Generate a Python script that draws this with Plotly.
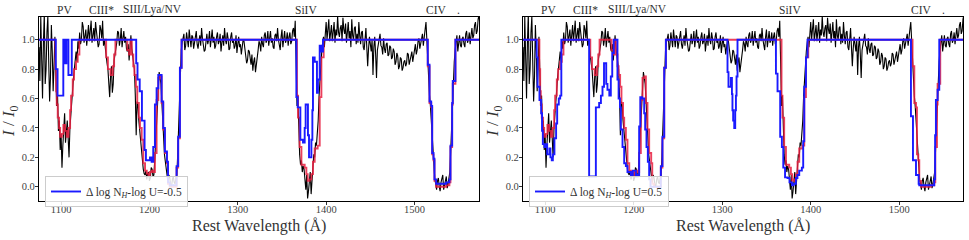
import numpy as np
import plotly.graph_objects as go

# ---------------- data ----------------
wl_start = 1075.0
wl_step = 1.0
flux = [
    0.95, 0.72, 1.16, 0.88, 0.60, 0.98, 1.18, 0.70, 0.80, 1.05, 1.16, 0.85, 0.58, 0.75, 1.10, 0.92, 0.65, 0.82, 1.02, 0.78,
    0.55, 0.62, 0.38, 0.45, 0.25, 0.36, 0.13, 0.28, 0.42, 0.50, 0.30, 0.38, 0.45, 0.33, 0.20, 0.40, 0.50, 0.58, 0.68, 0.74,
    0.80, 0.86, 0.92, 0.85, 0.99, 0.94, 1.05, 0.97, 1.00, 1.12, 1.09, 0.98, 1.03, 1.07, 0.96, 1.02, 1.10, 0.99, 1.05, 1.13,
    0.98, 1.04, 1.08, 0.99, 1.12, 1.06, 1.02, 0.95, 0.97, 1.10, 1.07, 1.01, 1.13, 0.96, 1.00, 0.93, 0.90, 0.84, 0.80, 0.70,
    0.61, 0.75, 0.82, 0.64, 0.70, 0.86, 0.90, 0.97, 0.98, 1.06, 1.05, 0.96, 1.00, 1.08, 0.95, 1.01, 1.06, 0.98, 1.02, 0.94,
    0.92, 0.97, 0.86, 0.95, 1.03, 0.94, 0.90, 0.84, 0.80, 0.62, 0.35, 0.58, 0.55, 0.45, 0.38, 0.30, 0.22, 0.16, 0.12, 0.09,
    0.08, 0.11, 0.05, 0.09, 0.10, 0.04, 0.06, 0.13, 0.12, 0.07, 0.08, 0.18, 0.30, 0.48, 0.62, 0.72, 0.78, 0.74, 0.70, 0.58,
    0.45, 0.33, 0.22, 0.17, 0.12, 0.06, 0.03, 0.08, 0.06, 0.01, 0.00, 0.05, 0.07, 0.03, 0.02, 0.06, 0.08, 0.22, 0.40, 0.65,
    0.82, 0.93, 0.98, 1.02, 1.04, 0.93, 0.96, 1.05, 1.00, 0.95, 1.07, 0.98, 0.95, 1.03, 1.02, 0.94, 0.98, 1.04, 1.06, 0.97,
    0.94, 0.99, 1.03, 0.96, 1.08, 1.01, 0.97, 0.92, 0.93, 1.00, 1.04, 0.97, 1.00, 1.06, 0.95, 1.01, 1.07, 0.98, 1.02, 0.94,
    0.96, 1.02, 1.05, 0.97, 0.99, 1.04, 0.92, 0.98, 1.03, 0.96, 1.08, 1.00, 0.97, 1.05, 1.01, 0.93, 0.94, 1.02, 1.05, 0.98,
    1.00, 0.94, 0.96, 1.03, 0.91, 0.97, 1.02, 0.95, 0.97, 0.90, 0.94, 1.00, 0.99, 0.93, 0.90, 0.84, 0.86, 0.93, 0.92, 0.85,
    0.83, 0.90, 0.79, 0.85, 0.88, 0.78, 0.82, 0.89, 0.93, 0.99, 0.97, 0.92, 1.02, 0.97, 0.95, 1.03, 1.05, 0.98, 1.00, 1.06,
    0.96, 1.01, 1.06, 0.98, 1.01, 0.95, 0.94, 1.03, 1.04, 0.99, 1.08, 1.00, 0.97, 0.93, 1.02, 1.07, 0.95, 1.00, 1.06, 0.98,
    1.00, 1.05, 0.96, 1.02, 1.05, 0.97, 0.99, 1.06, 1.08, 1.02, 1.13, 0.85, 0.55, 0.62, 0.30, 0.22, 0.15, 0.18, 0.10, 0.14,
    0.12, 0.05, -0.02, 0.08, -0.08, -0.03, 0.05, 0.10, -0.05, 0.06, 0.12, 0.22, 0.20, 0.30, 0.28, 0.35, 0.45, 0.62, 0.75, 0.88,
    0.92, 0.98, 1.02, 0.95, 1.08, 1.12, 1.00, 1.06, 1.14, 0.99, 1.05, 1.10, 0.99, 1.04, 1.12, 0.98, 1.07, 1.03, 1.16, 1.05,
    1.02, 1.08, 1.10, 0.99, 1.15, 1.07, 1.04, 1.11, 0.98, 1.05, 1.12, 1.01, 1.06, 0.95, 1.14, 1.03, 1.00, 1.08, 1.09, 0.97,
    1.04, 0.98, 1.12, 1.03, 0.97, 1.05, 1.06, 0.95, 0.93, 1.00, 1.08, 0.95, 0.82, 0.94, 1.02, 0.97, 0.92, 1.00, 0.76, 0.95,
    1.02, 0.90, 0.74, 0.93, 0.97, 1.03, 1.04, 0.96, 0.95, 0.90, 1.01, 0.94, 0.91, 0.97, 0.98, 0.89, 0.90, 0.96, 0.95, 0.87,
    0.88, 0.94, 0.92, 0.83, 0.85, 0.91, 0.89, 0.80, 0.82, 0.88, 0.87, 0.79, 0.81, 0.85, 0.86, 0.82, 0.84, 0.91, 0.90, 0.83,
    0.86, 0.91, 0.92, 0.85, 0.89, 0.95, 0.97, 0.90, 0.93, 0.99, 1.01, 0.94, 0.97, 1.02, 1.04, 0.96, 1.00, 1.07, 1.12, 0.97,
    0.85, 0.78, 0.62, 0.55, 0.45, 0.30, 0.20, 0.12, 0.05, 0.02, -0.02, 0.04, 0.06, 0.00, -0.03, 0.03, 0.05, 0.08, -0.02, 0.03,
    0.04, 0.07, -0.01, 0.02, 0.06, 0.10, 0.25, 0.42, 0.60, 0.72, 0.85, 0.93, 0.97, 1.03, 0.92, 0.98, 1.03, 0.96, 0.95, 1.01,
    1.02, 0.97, 0.95, 1.04, 1.06, 0.98, 1.00, 1.05, 0.97, 1.03, 1.08, 1.01, 1.03, 1.10, 1.12, 1.04, 1.06, 1.14, 1.17, 1.10,
    1.08,
]
wl = wl_start + wl_step * np.arange(len(flux))

# best-fit model (red), step function knots
red_wl = [1075, 1093.5, 1094.4, 1095.1, 1096.2, 1097.7, 1098.9, 1100.8, 1102.6, 1104.5,
          1106.4, 1108.3, 1110.2, 1111.3, 1113.2, 1114.7, 1116.9, 1118.8, 1120.7,
          1151, 1153, 1156, 1158.5, 1160, 1161.5,
          1175, 1177, 1178.5,
          1180, 1181.7, 1183, 1184.7, 1186.2, 1188, 1189.3, 1191.2, 1193, 1195, 1197, 1199,
          1200.6, 1202.5, 1204.5, 1206.2, 1208.1, 1210, 1211.9, 1213.8, 1215.6, 1217.5,
          1219.8, 1221, 1223, 1230.7, 1232.5, 1234.5, 1236.4,
          1367, 1368.1, 1370, 1372, 1375.7, 1377.6, 1379.1, 1381.4, 1383.3, 1385.1, 1387,
          1390.4, 1392.7, 1394.6, 1397.2,
          1515, 1517, 1518.9, 1520, 1521.5, 1522.6, 1524.5, 1535.8, 1539.5, 1540.7, 1542.6,
          1543.3, 1546.3, 1575]
red_I = [1.0, 0.80, 0.65, 0.56, 0.47, 0.40, 0.34, 0.36, 0.42, 0.38,
         0.34, 0.40, 0.52, 0.62, 0.73, 0.80, 0.85, 0.90, 1.0,
         0.88, 0.80, 0.76, 0.82, 0.90, 1.0,
         0.93, 0.90, 1.0,
         0.90, 0.82, 0.76, 0.68, 0.57, 0.47, 0.40, 0.32, 0.16, 0.11, 0.09, 0.08,
         0.10, 0.11, 0.10, 0.23, 0.59, 0.74, 0.75, 0.57, 0.39, 0.23,
         0.16, 0.02, 0.0, 0.13, 0.33, 0.81, 1.0,
         0.62, 0.47, 0.27, 0.15, 0.13, 0.086, 0.04, 0.05, 0.086, 0.17, 0.26,
         0.28, 0.61, 0.88, 1.0,
         0.82, 0.57, 0.54, 0.22, 0.18, 0.04, 0.0, 0.01, 0.03, 0.27, 0.56,
         0.70, 1.0, 1.0]

# model with delta log NH - log U = -0.5 (left, blue)
blueL_wl = [1075, 1094.0, 1096.0, 1102.5, 1104.5, 1106.0, 1108.3, 1112.1,
            1185.0, 1186.5, 1189.0, 1191.5, 1194.5, 1196.0, 1200.6, 1202.5, 1204.3, 1206.2,
            1208.1, 1210, 1211.9, 1213.8, 1215.6, 1217.5, 1219.8, 1221, 1223, 1230.7,
            1232.5, 1234.5, 1236.4,
            1366.3, 1367.8, 1370.8, 1373.8, 1375.7, 1376.8, 1379.4, 1380.6, 1383.3, 1384.4,
            1385.1, 1387.0, 1389.6, 1390.7, 1392.7, 1394.6, 1396.4,
            1515, 1517, 1518.9, 1520, 1521.5, 1522.6, 1524.5, 1535.8, 1539.5, 1540.7,
            1542.6, 1543.3, 1546.3, 1575]
blueL_I = [1.0, 0.80, 0.62, 1.0, 0.84, 1.0, 0.76, 1.0,
           0.84, 0.73, 0.65, 0.45, 0.25, 0.18, 0.20, 0.17, 0.27, 0.56,
           0.67, 0.76, 0.76, 0.58, 0.40, 0.24, 0.17, 0.03, 0.01, 0.14,
           0.34, 0.81, 1.0,
           0.61, 0.54, 0.32, 0.30, 0.40, 0.56, 0.35, 0.20, 0.32, 0.52,
           0.88, 0.85, 0.64, 0.73, 0.96, 0.92, 1.0,
           0.83, 0.58, 0.55, 0.23, 0.19, 0.05, 0.02, 0.03, 0.05, 0.28,
           0.57, 0.72, 1.0, 1.0]

# model with delta log NH - log U = +0.5 (right, blue)
blueR_wl = [1075, 1090.5, 1091.5, 1093.6, 1095.5, 1096.5, 1097.4, 1099.2, 1101.0, 1102.3,
            1104.9, 1106.0, 1107.5, 1108.7, 1110.5, 1112.4, 1113.6, 1115.4, 1117.0, 1118.3,
            1149.7, 1157.3, 1161.0, 1163.0, 1164.8, 1166.5, 1169.0, 1170.4, 1172.5, 1174.2,
            1175.8, 1177.5,
            1181.7, 1183.0, 1184.5, 1185.5, 1187.4, 1189.3, 1191.2, 1193.0, 1196.8, 1199.0,
            1202.5, 1204.5, 1206.2, 1207.5, 1209.5, 1211.9, 1213.0, 1214.5, 1216.0, 1217.5,
            1219.0, 1230.7, 1232.5, 1234.5, 1236.4,
            1306.0, 1307.1, 1309.8, 1311.0, 1311.6, 1312.4, 1313.6, 1314.7, 1315.5, 1316.2, 1317.3,
            1360.7, 1362.5, 1365.5, 1367.4, 1369.0, 1371.0, 1373.8, 1376.0, 1378.8, 1380.6,
            1383.3, 1385.0, 1387.0, 1390.0, 1391.5, 1392.7, 1394.6, 1396.4,
            1513.2, 1515.5, 1518.9, 1521.9, 1522.6, 1539.5, 1540.5, 1541.4, 1543.3, 1545.2, 1575]
blueR_I = [1.0, 0.88, 0.68, 0.59, 0.50, 0.38, 0.29, 0.27, 0.29, 0.22,
           0.26, 0.20, 0.18, 0.22, 0.33, 0.43, 0.56, 0.60, 0.62, 1.0,
           0.07, 0.54, 0.57, 0.62, 0.68, 0.84, 0.70, 0.66, 0.62, 0.75,
           0.91, 1.0,
           0.73, 0.60, 0.54, 0.39, 0.27, 0.16, 0.14, 0.10, 0.08, 0.11,
           0.07, 0.08, 0.41, 0.61, 0.60, 0.50, 0.39, 0.27, 0.17, 0.05,
           0.0, 0.14, 0.34, 0.81, 1.0,
           0.78, 0.68, 0.74, 0.63, 0.52, 0.45, 0.40, 0.52, 0.62, 0.75, 1.0,
           0.77, 0.65, 0.34, 0.27, 0.13, 0.064, 0.06, 0.03, 0.01, 0.02,
           0.06, 0.08, 0.11, 0.13, 0.31, 0.68, 0.88, 1.0,
           0.48, 0.18, 0.08, 0.02, 0.01, 0.05, 0.35, 0.59, 0.66, 1.0, 1.0]

ion_labels = ["PV", "CIII*", "SIII/Lya/NV", "SiIV", "CIV", "."]
ion_wl = [1104, 1146, 1204, 1377, 1525, 1550]

legend_labels = ["Δ log N<sub><i>H</i></sub>-log U=-0.5",
                 "Δ log N<sub><i>H</i></sub>-log U=0.5"]

x_ticks = [1100, 1200, 1300, 1400, 1500]
y_ticks = [0.0, 0.2, 0.4, 0.6, 0.8, 1.0]

# ---------------- figure ----------------
W, H = 969, 240
FONT = "Liberation Serif"
TICKC = "#444444"
BLACK = "#000000"
RED = "rgba(232,30,64,0.85)"
BLUE = "#1a1aff"

fig = go.Figure()
blues = [(blueL_wl, blueL_I), (blueR_wl, blueR_I)]
for i, (bw, bI) in enumerate(blues):
    xa = "x" if i == 0 else "x2"
    ya = "y" if i == 0 else "y2"
    fig.add_trace(go.Scatter(x=wl, y=flux, mode="lines", xaxis=xa, yaxis=ya,
                             line=dict(color=BLACK, width=1.1), showlegend=False,
                             hoverinfo="skip"))
    fig.add_trace(go.Scatter(x=red_wl, y=red_I, mode="lines", xaxis=xa, yaxis=ya,
                             line=dict(color=RED, width=1.9, shape="hv"), showlegend=False,
                             hoverinfo="skip"))
    fig.add_trace(go.Scatter(x=bw, y=bI, mode="lines", xaxis=xa, yaxis=ya,
                             line=dict(color=BLUE, width=1.9, shape="hv"),
                             name=legend_labels[i], showlegend=True, hoverinfo="skip",
                             legend="legend" if i == 0 else "legend2"))

doms = [(39 / W, 479 / W), (523 / W, 963 / W)]
ydom = (1 - 201 / H, 1 - 17 / H)

axis_common = dict(showline=True, linecolor="black", linewidth=1.3, mirror=True,
                   showgrid=False, zeroline=False, ticks="outside", ticklen=3,
                   tickwidth=1, tickcolor="#333333",
                   tickfont=dict(family=FONT, size=10.5, color=TICKC))

layout = dict(
    width=W, height=H, margin=dict(l=0, r=0, t=0, b=0),
    paper_bgcolor="white", plot_bgcolor="white",
    font=dict(family=FONT, color=TICKC),
    xaxis=dict(domain=doms[0], range=[1075, 1573], tickvals=x_ticks, anchor="y",
               ticklabelstandoff=-5, **axis_common),
    yaxis=dict(domain=ydom, range=[-0.097, 1.155], tickvals=y_ticks, tickformat=".1f",
               anchor="x", ticklabelstandoff=-2, **axis_common),
    xaxis2=dict(domain=doms[1], range=[1075, 1572], tickvals=x_ticks, anchor="y2",
                ticklabelstandoff=-5, **axis_common),
    yaxis2=dict(domain=ydom, range=[-0.097, 1.155], tickvals=y_ticks, tickformat=".1f",
                anchor="x2", ticklabelstandoff=-2, **axis_common),
    legend=dict(x=45 / W, y=1 - 176 / H, xanchor="left", yanchor="top",
                bgcolor="rgba(255,255,255,0.85)", bordercolor="#cccccc", borderwidth=1,
                font=dict(family=FONT, size=11.5, color="#333333"), itemwidth=30,
                tracegroupgap=0),
    legend2=dict(x=(45 + 484) / W, y=1 - 176 / H, xanchor="left", yanchor="top",
                 bgcolor="rgba(255,255,255,0.85)", bordercolor="#cccccc", borderwidth=1,
                 font=dict(family=FONT, size=11.5, color="#333333"), itemwidth=30,
                 tracegroupgap=0),
)
fig.update_layout(**layout)

annots = []
for i in range(2):
    xr = "x" if i == 0 else "x2"
    for lab, w in zip(ion_labels, ion_wl):
        annots.append(dict(x=w, y=1 - 10 / H, xref=xr, yref="paper", text=lab,
                           showarrow=False, xanchor="center", yanchor="middle",
                           font=dict(family=FONT, size=11.5, color="#333333")))
    x0 = 10 if i == 0 else 494
    annots.append(dict(x=x0 / W, y=1 - 121 / H, xref="paper", yref="paper",
                       text="<i>I</i> / <i>I</i><sub>0</sub>", textangle=-90,
                       showarrow=False, xanchor="center", yanchor="middle",
                       font=dict(family=FONT, size=17, color="#333333")))
    xc = 259 if i == 0 else 743
    annots.append(dict(x=xc / W, y=1 - 226 / H, xref="paper", yref="paper",
                       text="Rest Wavelength (Å)", showarrow=False,
                       xanchor="center", yanchor="middle",
                       font=dict(family=FONT, size=16, color="#333333")))
fig.update_layout(annotations=annots)

fig.write_html("out.html", config={"displayModeBar": False},
               post_script="document.body.style.margin='0';document.body.style.overflow='hidden';")
